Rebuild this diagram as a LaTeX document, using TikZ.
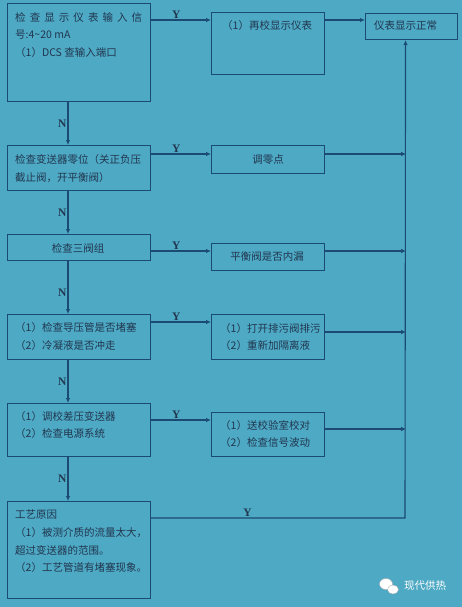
\documentclass[tikz,border=0pt]{standalone}
\usepackage{fontspec}
\setmainfont{Noto Sans CJK SC}
\newfontfamily\yfont{Liberation Serif}
\usetikzlibrary{arrows.meta}
\definecolor{bg}{HTML}{4DA9C4}
\definecolor{ln}{HTML}{1B4A72}
\definecolor{tx}{HTML}{22364F}
\begin{document}
\begin{tikzpicture}[x=1pt,y=-1pt,
  box/.style={draw=ln, line width=1.1pt, inner sep=0pt, anchor=north west},
  txt/.style={text=tx, font=\fontsize{10.5}{12}\selectfont, anchor=west, inner sep=0pt},
  ctxt/.style={txt, anchor=center},
  arr/.style={draw=ln, line width=1.1pt, -{Latex[length=5pt,width=4.5pt]}},
  yn/.style={text=tx, font=\yfont\bfseries\fontsize{11.5}{12}\selectfont, inner sep=1pt}]
\fill[bg] (0,0) rectangle (462,607);
\useasboundingbox (0,0) rectangle (462,607);

% left column boxes
\node[box, minimum width=143pt, minimum height=98pt] (b1) at (7,3) {};
\node[box, minimum width=143pt, minimum height=45pt] (b2) at (7,145) {};
\node[box, minimum width=143pt, minimum height=26pt] (b3) at (7,234) {};
\node[box, minimum width=143pt, minimum height=45pt] (b4) at (7,314) {};
\node[box, minimum width=143pt, minimum height=53pt] (b5) at (7,403) {};
\node[box, minimum width=143pt, minimum height=97pt] (b6) at (7,501) {};
% right column boxes
\node[box, minimum width=113pt, minimum height=62pt] (r1) at (211,12) {};
\node[box, minimum width=113pt, minimum height=28pt] (r2) at (211,145) {};
\node[box, minimum width=113pt, minimum height=27pt] (r3) at (211,243) {};
\node[box, minimum width=113pt, minimum height=45pt] (r4) at (211,314) {};
\node[box, minimum width=113pt, minimum height=44pt] (r5) at (211,412) {};
\node[box, minimum width=92pt, minimum height=26pt] (ok) at (365,13) {};

% texts
\node[txt] (t1a) at (15,17) {\makebox[127pt][s]{检\hfill 查\hfill 显\hfill 示\hfill 仪\hfill 表\hfill 输\hfill 入\hfill 信}};
\node[txt] (t1b) at (15,35) {号:4\textasciitilde 20 mA};
\node[txt] (t1c) at (15,53) {（1）DCS 查输入端口};
\node[txt] (tr1) at (222,26) {（1）再校显示仪表};
\node[txt] (tok) at (374,26) {仪表显示正常};
\node[txt] (t2a) at (15,160) {检查变送器零位（关正负压};
\node[txt] (t2b) at (15,178) {截止阀，开平衡阀）};
\node[ctxt] (tr2) at (268,160) {调零点};
\node[ctxt] (t3) at (78,248) {检查三阀组};
\node[ctxt] (tr3) at (267,257) {平衡阀是否内漏};
\node[txt] (t4a) at (15,328) {（1）检查导压管是否堵塞};
\node[txt] (t4b) at (15,346) {（2）冷凝液是否冲走};
\node[txt] (tr4a) at (220,329) {（1）打开排污阀排污};
\node[txt] (tr4b) at (220,346) {（2）重新加隔离液};
\node[txt] (t5a) at (15,417) {（1）调校差压变送器};
\node[txt] (t5b) at (15,434) {（2）检查电源系统};
\node[txt] (tr5a) at (220,426) {（1）送校验室校对};
\node[txt] (tr5b) at (220,443) {（2）检查信号波动};
\node[txt] (t6a) at (15,514) {工艺原因};
\node[txt] (t6b) at (15,533) {（1）被测介质的流量太大，};
\node[txt] (t6c) at (15,550) {超过变送器的范围。};
\node[txt] (t6d) at (15,568) {（2）工艺管道有堵塞现象。};

% Y connectors
\draw[arr] ([yshift=-17]b1.north east) -- node[yn, pos=0.42, above]{Y} ([yshift=-8]r1.north west);
\draw[arr] ([yshift=-8]r1.north east) -- ([yshift=-7]ok.north west);
\draw[arr] ([yshift=-9]b2.north east) -- node[yn, pos=0.42, above]{Y} ([yshift=-9]r2.north west);
\draw[arr] ([yshift=-9]r2.north east) -- ++(81,0);
\draw[arr] ([yshift=-17]b3.north east) -- node[yn, pos=0.42, above]{Y} ([yshift=-8]r3.north west);
\draw[arr] ([yshift=-8]r3.north east) -- ++(81,0);
\draw[arr] ([yshift=-8]b4.north east) -- node[yn, pos=0.42, above]{Y} ([yshift=-8]r4.north west);
\draw[arr] ([yshift=-18]r4.north east) -- ++(81,0);
\draw[arr] ([yshift=-17]b5.north east) -- node[yn, pos=0.42, above]{Y} ([yshift=-8]r5.north west);
\draw[arr] ([yshift=-17]r5.north east) -- ++(81,0);
\coordinate (bus) at (405,518);
\draw[arr] ([yshift=-17]b6.north east) -- node[yn, pos=0.38, above]{Y} (bus) -- ([xshift=-6]ok.south);

% N connectors
\draw[arr] ([xshift=61]b1.south west) -- node[yn, midway, left]{N} ([xshift=61]b2.north west);
\draw[arr] ([xshift=61]b2.south west) -- node[yn, midway, left]{N} ([xshift=61]b3.north west);
\draw[arr] ([xshift=61]b3.south west) -- node[yn, pos=0.6, left]{N} ([xshift=61]b4.north west);
\draw[arr] ([xshift=61]b4.south west) -- node[yn, midway, left]{N} ([xshift=61]b5.north west);
\draw[arr] ([xshift=61]b5.south west) -- node[yn, midway, left]{N} ([xshift=61]b6.north west);

% watermark
\fill[white, draw=gray!60, line width=0.4pt] (386,584) ellipse (6.5 and 5.5);
\fill[white, draw=gray!60, line width=0.4pt] (393,589.5) ellipse (5.5 and 4.5);
\node[text=white, font=\fontsize{10.5}{12}\selectfont, inner sep=0pt] (wm) at (425,586) {现代供热};
\end{tikzpicture}
\end{document}
